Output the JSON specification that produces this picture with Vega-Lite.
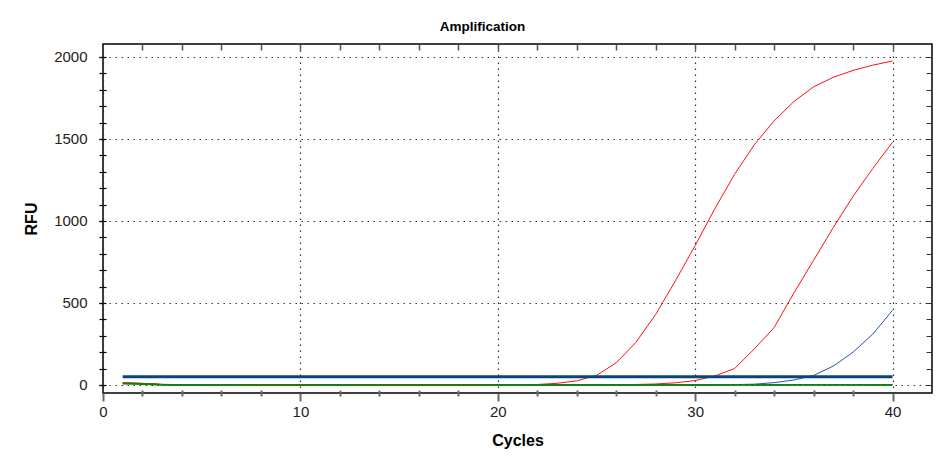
{
  "$schema": "https://vega.github.io/schema/vega-lite/v6.json",
  "width": 829,
  "height": 349,
  "autosize": {"type": "none"},
  "padding": {"left": 103, "top": 44, "right": 12, "bottom": 68},
  "background": "#ffffff",
  "title": {
    "text": "Amplification",
    "font": "Liberation Sans",
    "fontSize": 13.5,
    "fontWeight": "bold",
    "color": "#000000",
    "anchor": "middle",
    "dx": -35,
    "offset": 10
  },
  "config": {
    "view": {"stroke": "#000000", "strokeWidth": 1.5},
    "axis": {
      "labelFont": "Liberation Sans",
      "titleFont": "Liberation Sans",
      "labelColor": "#222222",
      "titleColor": "#000000",
      "domain": false
    }
  },
  "datasets": {
    "traces": [
      {"cycle": 1, "rfu": 10, "well": "B2"}, {"cycle": 2, "rfu": 9, "well": "B2"}, {"cycle": 3, "rfu": 1, "well": "B2"}, {"cycle": 4, "rfu": -2, "well": "B2"}, {"cycle": 5, "rfu": -2, "well": "B2"}, {"cycle": 6, "rfu": 0, "well": "B2"}, {"cycle": 7, "rfu": 1, "well": "B2"}, {"cycle": 8, "rfu": 0, "well": "B2"}, {"cycle": 9, "rfu": -1, "well": "B2"}, {"cycle": 10, "rfu": 0, "well": "B2"},
      {"cycle": 11, "rfu": 1, "well": "B2"}, {"cycle": 12, "rfu": -1, "well": "B2"}, {"cycle": 13, "rfu": 0, "well": "B2"}, {"cycle": 14, "rfu": 1, "well": "B2"}, {"cycle": 15, "rfu": -1, "well": "B2"}, {"cycle": 16, "rfu": 0, "well": "B2"}, {"cycle": 17, "rfu": 1, "well": "B2"}, {"cycle": 18, "rfu": -2, "well": "B2"}, {"cycle": 19, "rfu": 0, "well": "B2"}, {"cycle": 20, "rfu": 1, "well": "B2"},
      {"cycle": 21, "rfu": 0, "well": "B2"}, {"cycle": 22, "rfu": -1, "well": "B2"}, {"cycle": 23, "rfu": 0, "well": "B2"}, {"cycle": 24, "rfu": 0, "well": "B2"}, {"cycle": 25, "rfu": 0, "well": "B2"}, {"cycle": 26, "rfu": 1, "well": "B2"}, {"cycle": 27, "rfu": 0, "well": "B2"}, {"cycle": 28, "rfu": -1, "well": "B2"}, {"cycle": 29, "rfu": 1, "well": "B2"}, {"cycle": 30, "rfu": 0, "well": "B2"},
      {"cycle": 31, "rfu": 0, "well": "B2"}, {"cycle": 32, "rfu": 1, "well": "B2"}, {"cycle": 33, "rfu": 0, "well": "B2"}, {"cycle": 34, "rfu": -1, "well": "B2"}, {"cycle": 35, "rfu": 0, "well": "B2"}, {"cycle": 36, "rfu": 1, "well": "B2"}, {"cycle": 37, "rfu": 0, "well": "B2"}, {"cycle": 38, "rfu": 1, "well": "B2"}, {"cycle": 39, "rfu": -1, "well": "B2"}, {"cycle": 40, "rfu": 0, "well": "B2"},

      {"cycle": 1, "rfu": 11, "well": "B1"}, {"cycle": 2, "rfu": 8, "well": "B1"}, {"cycle": 3, "rfu": 2, "well": "B1"}, {"cycle": 4, "rfu": -1, "well": "B1"}, {"cycle": 5, "rfu": -1, "well": "B1"}, {"cycle": 6, "rfu": 0, "well": "B1"}, {"cycle": 7, "rfu": 2, "well": "B1"}, {"cycle": 8, "rfu": 1, "well": "B1"}, {"cycle": 9, "rfu": 0, "well": "B1"}, {"cycle": 10, "rfu": -1, "well": "B1"},
      {"cycle": 11, "rfu": 0, "well": "B1"}, {"cycle": 12, "rfu": 0, "well": "B1"}, {"cycle": 13, "rfu": 1, "well": "B1"}, {"cycle": 14, "rfu": 2, "well": "B1"}, {"cycle": 15, "rfu": -1, "well": "B1"}, {"cycle": 16, "rfu": 0, "well": "B1"}, {"cycle": 17, "rfu": 2, "well": "B1"}, {"cycle": 18, "rfu": 1, "well": "B1"}, {"cycle": 19, "rfu": -1, "well": "B1"}, {"cycle": 20, "rfu": 1, "well": "B1"},
      {"cycle": 21, "rfu": 2, "well": "B1"}, {"cycle": 22, "rfu": 0, "well": "B1"}, {"cycle": 23, "rfu": -2, "well": "B1"}, {"cycle": 24, "rfu": 0, "well": "B1"}, {"cycle": 25, "rfu": 1, "well": "B1"}, {"cycle": 26, "rfu": -1, "well": "B1"}, {"cycle": 27, "rfu": 0, "well": "B1"}, {"cycle": 28, "rfu": 1, "well": "B1"}, {"cycle": 29, "rfu": 0, "well": "B1"}, {"cycle": 30, "rfu": -1, "well": "B1"},
      {"cycle": 31, "rfu": 0, "well": "B1"}, {"cycle": 32, "rfu": 2, "well": "B1"}, {"cycle": 33, "rfu": 5, "well": "B1"}, {"cycle": 34, "rfu": 14, "well": "B1"}, {"cycle": 35, "rfu": 30, "well": "B1"}, {"cycle": 36, "rfu": 58, "well": "B1"}, {"cycle": 37, "rfu": 115, "well": "B1"}, {"cycle": 38, "rfu": 200, "well": "B1"}, {"cycle": 39, "rfu": 310, "well": "B1"}, {"cycle": 40, "rfu": 455, "well": "B1"},

      {"cycle": 1, "rfu": 12, "well": "R2"}, {"cycle": 2, "rfu": 10, "well": "R2"}, {"cycle": 3, "rfu": 4, "well": "R2"}, {"cycle": 4, "rfu": 2, "well": "R2"}, {"cycle": 5, "rfu": 1, "well": "R2"}, {"cycle": 6, "rfu": 0, "well": "R2"}, {"cycle": 7, "rfu": 1, "well": "R2"}, {"cycle": 8, "rfu": 0, "well": "R2"}, {"cycle": 9, "rfu": -2, "well": "R2"}, {"cycle": 10, "rfu": -2, "well": "R2"},
      {"cycle": 11, "rfu": 1, "well": "R2"}, {"cycle": 12, "rfu": 2, "well": "R2"}, {"cycle": 13, "rfu": 0, "well": "R2"}, {"cycle": 14, "rfu": -1, "well": "R2"}, {"cycle": 15, "rfu": 0, "well": "R2"}, {"cycle": 16, "rfu": 0, "well": "R2"}, {"cycle": 17, "rfu": -3, "well": "R2"}, {"cycle": 18, "rfu": -2, "well": "R2"}, {"cycle": 19, "rfu": -1, "well": "R2"}, {"cycle": 20, "rfu": 0, "well": "R2"},
      {"cycle": 21, "rfu": 1, "well": "R2"}, {"cycle": 22, "rfu": 1, "well": "R2"}, {"cycle": 23, "rfu": 2, "well": "R2"}, {"cycle": 24, "rfu": 0, "well": "R2"}, {"cycle": 25, "rfu": 1, "well": "R2"}, {"cycle": 26, "rfu": 2, "well": "R2"}, {"cycle": 27, "rfu": 3, "well": "R2"}, {"cycle": 28, "rfu": 6, "well": "R2"}, {"cycle": 29, "rfu": 13, "well": "R2"}, {"cycle": 30, "rfu": 27, "well": "R2"},
      {"cycle": 31, "rfu": 55, "well": "R2"}, {"cycle": 32, "rfu": 100, "well": "R2"}, {"cycle": 33, "rfu": 220, "well": "R2"}, {"cycle": 34, "rfu": 350, "well": "R2"}, {"cycle": 35, "rfu": 560, "well": "R2"}, {"cycle": 36, "rfu": 760, "well": "R2"}, {"cycle": 37, "rfu": 960, "well": "R2"}, {"cycle": 38, "rfu": 1150, "well": "R2"}, {"cycle": 39, "rfu": 1320, "well": "R2"}, {"cycle": 40, "rfu": 1480, "well": "R2"},

      {"cycle": 1, "rfu": 14, "well": "R1"}, {"cycle": 2, "rfu": 9, "well": "R1"}, {"cycle": 3, "rfu": 3, "well": "R1"}, {"cycle": 4, "rfu": 1, "well": "R1"}, {"cycle": 5, "rfu": 2, "well": "R1"}, {"cycle": 6, "rfu": 2, "well": "R1"}, {"cycle": 7, "rfu": 0, "well": "R1"}, {"cycle": 8, "rfu": -1, "well": "R1"}, {"cycle": 9, "rfu": 1, "well": "R1"}, {"cycle": 10, "rfu": 2, "well": "R1"},
      {"cycle": 11, "rfu": 0, "well": "R1"}, {"cycle": 12, "rfu": 1, "well": "R1"}, {"cycle": 13, "rfu": -2, "well": "R1"}, {"cycle": 14, "rfu": 0, "well": "R1"}, {"cycle": 15, "rfu": -1, "well": "R1"}, {"cycle": 16, "rfu": -2, "well": "R1"}, {"cycle": 17, "rfu": -3, "well": "R1"}, {"cycle": 18, "rfu": -1, "well": "R1"}, {"cycle": 19, "rfu": 0, "well": "R1"}, {"cycle": 20, "rfu": 1, "well": "R1"},
      {"cycle": 21, "rfu": 1, "well": "R1"}, {"cycle": 22, "rfu": 3, "well": "R1"}, {"cycle": 23, "rfu": 10, "well": "R1"}, {"cycle": 24, "rfu": 25, "well": "R1"}, {"cycle": 25, "rfu": 58, "well": "R1"}, {"cycle": 26, "rfu": 135, "well": "R1"}, {"cycle": 27, "rfu": 260, "well": "R1"}, {"cycle": 28, "rfu": 430, "well": "R1"}, {"cycle": 29, "rfu": 635, "well": "R1"}, {"cycle": 30, "rfu": 850, "well": "R1"},
      {"cycle": 31, "rfu": 1075, "well": "R1"}, {"cycle": 32, "rfu": 1285, "well": "R1"}, {"cycle": 33, "rfu": 1465, "well": "R1"}, {"cycle": 34, "rfu": 1610, "well": "R1"}, {"cycle": 35, "rfu": 1728, "well": "R1"}, {"cycle": 36, "rfu": 1818, "well": "R1"}, {"cycle": 37, "rfu": 1876, "well": "R1"}, {"cycle": 38, "rfu": 1918, "well": "R1"}, {"cycle": 39, "rfu": 1950, "well": "R1"}, {"cycle": 40, "rfu": 1975, "well": "R1"}
    ],
    "green": [
      {"cycle": 1, "rfu": 8, "well": "G1"}, {"cycle": 2, "rfu": 6, "well": "G1"}, {"cycle": 3, "rfu": 1, "well": "G1"}, {"cycle": 4, "rfu": 0, "well": "G1"}, {"cycle": 5, "rfu": 0, "well": "G1"}, {"cycle": 6, "rfu": 0, "well": "G1"}, {"cycle": 7, "rfu": 0, "well": "G1"}, {"cycle": 8, "rfu": 0, "well": "G1"}, {"cycle": 9, "rfu": 0, "well": "G1"}, {"cycle": 10, "rfu": 0, "well": "G1"},
      {"cycle": 11, "rfu": 0, "well": "G1"}, {"cycle": 12, "rfu": 0, "well": "G1"}, {"cycle": 13, "rfu": -1, "well": "G1"}, {"cycle": 14, "rfu": 0, "well": "G1"}, {"cycle": 15, "rfu": 0, "well": "G1"}, {"cycle": 16, "rfu": 0, "well": "G1"}, {"cycle": 17, "rfu": 0, "well": "G1"}, {"cycle": 18, "rfu": 0, "well": "G1"}, {"cycle": 19, "rfu": 0, "well": "G1"}, {"cycle": 20, "rfu": 0, "well": "G1"},
      {"cycle": 21, "rfu": 0, "well": "G1"}, {"cycle": 22, "rfu": 0, "well": "G1"}, {"cycle": 23, "rfu": 0, "well": "G1"}, {"cycle": 24, "rfu": 0, "well": "G1"}, {"cycle": 25, "rfu": 0, "well": "G1"}, {"cycle": 26, "rfu": 0, "well": "G1"}, {"cycle": 27, "rfu": 0, "well": "G1"}, {"cycle": 28, "rfu": 0, "well": "G1"}, {"cycle": 29, "rfu": 0, "well": "G1"}, {"cycle": 30, "rfu": 0, "well": "G1"},
      {"cycle": 31, "rfu": 0, "well": "G1"}, {"cycle": 32, "rfu": 0, "well": "G1"}, {"cycle": 33, "rfu": 0, "well": "G1"}, {"cycle": 34, "rfu": 0, "well": "G1"}, {"cycle": 35, "rfu": 0, "well": "G1"}, {"cycle": 36, "rfu": 0, "well": "G1"}, {"cycle": 37, "rfu": 0, "well": "G1"}, {"cycle": 38, "rfu": 0, "well": "G1"}, {"cycle": 39, "rfu": 0, "well": "G1"}, {"cycle": 40, "rfu": 0, "well": "G1"}
    ],
    "threshold": [
      {"start": 1, "end": 40, "rfu": 50}
    ]
  },
  "layer": [
    {
      "data": {"name": "traces"},
      "mark": {"type": "line", "strokeWidth": 1, "interpolate": "linear"},
      "encoding": {
        "x": {
          "field": "cycle",
          "type": "quantitative",
          "scale": {"domain": [0, 42], "nice": false, "zero": false},
          "axis": {
            "orient": "bottom",
            "values": [0, 10, 20, 30, 40],
            "labelFlush": false,
            "grid": true,
            "gridColor": "#333333",
            "gridDash": [1.5, 4.5],
            "gridWidth": 1.2,
            "ticks": true,
            "tickSize": 8,
            "tickColor": "#6a6a6a",
            "tickWidth": 2,
            "labelFontSize": 15,
            "labelPadding": 3,
            "title": "Cycles",
            "titleFontSize": 16,
            "titleFontWeight": "bold",
            "titlePadding": 13
          }
        },
        "y": {
          "field": "rfu",
          "type": "quantitative",
          "scale": {"domain": [-49, 2079], "nice": false, "zero": false},
          "axis": {
            "orient": "left",
            "values": [0, 500, 1000, 1500, 2000],
            "format": "d",
            "labelFlush": false,
            "grid": true,
            "gridColor": "#333333",
            "gridDash": [1.5, 4.5],
            "gridWidth": 1.2,
            "ticks": true,
            "tickSize": 4,
            "tickColor": "#000000",
            "tickWidth": 1.2,
            "labelFontSize": 15,
            "labelPadding": 12,
            "title": "RFU",
            "titleFontSize": 16,
            "titleFontWeight": "bold",
            "titlePadding": 14
          }
        },
        "color": {
          "field": "well",
          "type": "nominal",
          "scale": {
            "domain": ["B2", "B1", "R2", "R1"],
            "range": ["#1a4f94", "#1d5aa8", "#ff1010", "#ff1010"]
          },
          "legend": null
        }
      }
    },
    {
      "data": {"name": "green"},
      "mark": {"type": "line", "strokeWidth": 1.8, "color": "#008a00"},
      "encoding": {
        "x": {
          "field": "cycle",
          "type": "quantitative",
          "scale": {"domain": [0, 42], "nice": false, "zero": false},
          "axis": {
            "orient": "bottom",
            "offset": -3,
            "values": [2, 4, 6, 8, 12, 14, 16, 18, 22, 24, 26, 28, 32, 34, 36, 38],
            "grid": false,
            "labels": false,
            "ticks": true,
            "domain": false,
            "tickSize": 6,
            "tickColor": "#6a6a6a",
            "tickWidth": 2,
            "title": null
          }
        },
        "y": {
          "field": "rfu",
          "type": "quantitative",
          "scale": {"domain": [-49, 2079], "nice": false, "zero": false},
          "axis": {
            "orient": "left",
            "offset": -3,
            "values": [0, 100, 200, 300, 400, 500, 600, 700, 800, 900, 1000, 1100, 1200, 1300, 1400, 1500, 1600, 1700, 1800, 1900, 2000],
            "grid": false,
            "labels": false,
            "ticks": true,
            "domain": false,
            "tickSize": 7,
            "tickColor": "#000000",
            "tickWidth": 1.2,
            "title": null
          }
        }
      }
    },
    {
      "data": {"name": "threshold"},
      "mark": {"type": "rule", "strokeWidth": 3, "color": "#08447f"},
      "encoding": {
        "x": {
          "field": "start",
          "type": "quantitative",
          "scale": {"domain": [0, 42], "nice": false, "zero": false},
          "axis": {
            "orient": "top",
            "offset": -6,
            "values": [2, 4, 6, 8, 10, 12, 14, 16, 18, 20, 22, 24, 26, 28, 30, 32, 34, 36, 38, 40],
            "grid": false,
            "labels": false,
            "ticks": true,
            "domain": false,
            "tickSize": 6,
            "tickColor": "#555555",
            "tickWidth": 1.5,
            "title": null
          }
        },
        "x2": {"field": "end"},
        "y": {
          "field": "rfu",
          "type": "quantitative",
          "scale": {"domain": [-49, 2079], "nice": false, "zero": false},
          "axis": {
            "orient": "right",
            "offset": -6,
            "values": [0, 100, 200, 300, 400, 500, 600, 700, 800, 900, 1000, 1100, 1200, 1300, 1400, 1500, 1600, 1700, 1800, 1900, 2000],
            "grid": false,
            "labels": false,
            "ticks": true,
            "domain": false,
            "tickSize": 6,
            "tickColor": "#333333",
            "tickWidth": 1,
            "title": null
          }
        }
      }
    }
  ],
  "resolve": {"scale": {"x": "independent", "y": "independent"}, "axis": {"x": "independent", "y": "independent"}}
}
